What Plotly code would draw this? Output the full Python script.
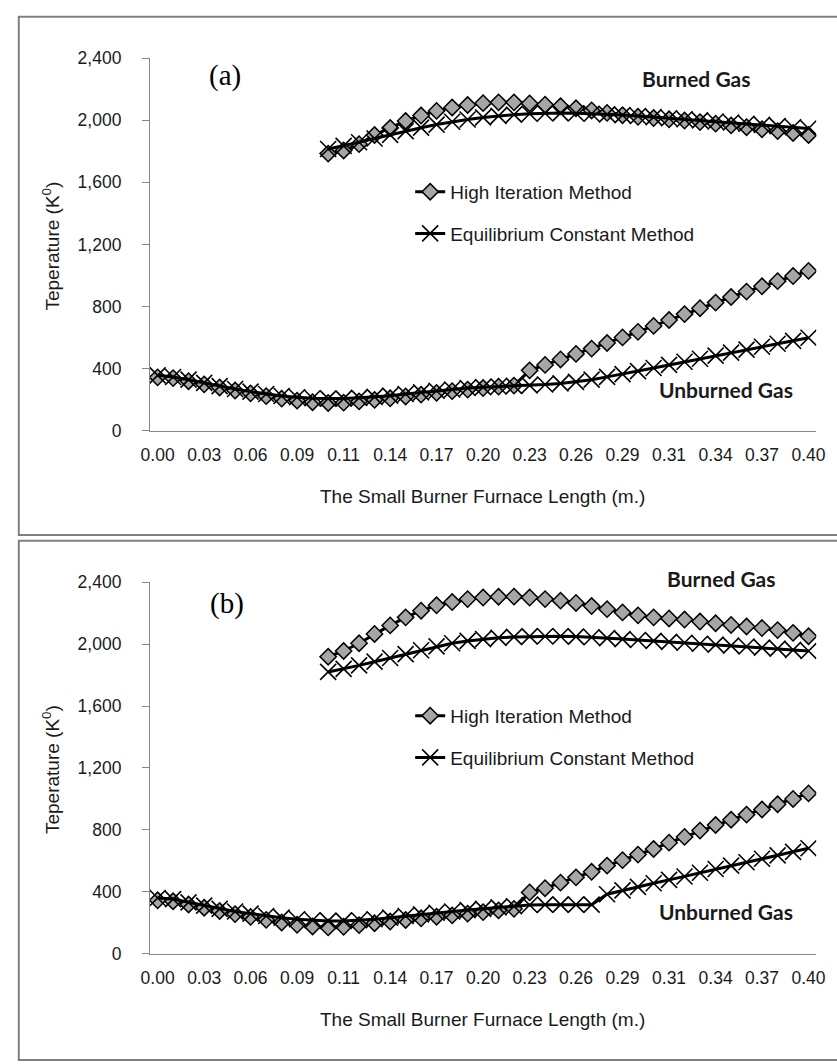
import plotly.graph_objects as go

# ---------------- data ----------------
x_labels = ["0.00", "0.03", "0.06", "0.09", "0.11", "0.14", "0.17", "0.20",
            "0.23", "0.26", "0.29", "0.31", "0.34", "0.37", "0.40"]
length_m = [round(0.4 * i / 42, 4) for i in range(43)]   # 43 category points along the furnace
burn_start = 11                                          # burned-gas series start at this point

# Panel (a)
hi_unburned_a = [345, 340, 320, 300, 280, 260, 242, 224, 208, 195, 185, 180, 182, 190, 200,
                 210, 222, 234, 245, 256, 266, 276, 285, 292,
                 390, 425, 460, 496, 530, 566, 602, 638, 676, 714, 752, 790, 826, 862, 897,
                 931, 964, 997, 1030]
eq_unburned_a = [358, 347, 330, 309, 288, 270, 253, 238, 225, 217, 210, 208, 208, 213, 219,
                 227, 238, 248, 259, 267, 276, 282, 286, 290,
                 293, 299, 306, 316, 330, 348, 366, 385, 405, 425, 445, 465, 485, 504, 523,
                 542, 561, 580, 600]
hi_burned_a = [1785, 1805, 1846, 1905, 1950, 1995, 2030, 2060, 2082, 2098, 2110, 2115, 2115,
               2108, 2100, 2090, 2077, 2063, 2047, 2032, 2022, 2014, 2006, 1998, 1988, 1978,
               1967, 1955, 1942, 1930, 1918, 1905]
eq_burned_a = [1815, 1835, 1858, 1882, 1906, 1930, 1952, 1972, 1990, 2005, 2018, 2028, 2036,
               2042, 2045, 2046, 2045, 2042, 2038, 2033, 2027, 2020, 2013, 2006, 1999, 1992,
               1985, 1977, 1970, 1962, 1955, 1947]

# Panel (b)
hi_unburned_b = [346, 340, 319, 298, 277, 257, 239, 220, 203, 188, 177, 171, 175, 186, 198,
                 209, 219, 230, 240, 249, 260, 270, 281, 291,
                 397, 424, 460, 494, 530, 570, 605, 641, 677, 718, 755, 796, 832, 866, 899,
                 932, 966, 1000, 1036]
eq_unburned_b = [361, 354, 333, 312, 291, 274, 260, 245, 234, 224, 217, 213, 213, 217, 224,
                 234, 245, 255, 266, 274, 283, 291, 300, 308,
                 316, 318, 318, 318, 318,
                 385, 410, 433, 456, 478, 500, 524, 548, 570, 592, 614, 636, 659, 682]
hi_burned_b = [1918, 1955, 2005, 2065, 2120, 2172, 2215, 2250, 2271, 2290, 2300, 2305, 2306,
               2300, 2290, 2280, 2265, 2245, 2225, 2204, 2185, 2172, 2165, 2158, 2145, 2134,
               2123, 2113, 2103, 2090, 2072, 2050]
eq_burned_b = [1820, 1840, 1862, 1886, 1910, 1935, 1960, 1985, 2005, 2020, 2032, 2040, 2046,
               2049, 2050, 2050, 2048, 2044, 2038, 2032, 2026, 2020, 2014, 2008, 2002, 1996,
               1990, 1984, 1977, 1970, 1962, 1955]

series_names = ["High Iteration Method", "Equilibrium Constant Method"]
panel_labels = ["(a)", "(b)"]
y_title = "Teperature (K<sup>0</sup>)"
x_title = "The Small Burner Furnace Length (m.)"

# ---------------- layout helpers ----------------
W, H = 837, 1064
def px(x):
    return x / W
def py(y):
    return 1 - y / H

SANS = "Liberation Sans, Arial, sans-serif"
AXC = "#868686"
TXT = "#1a1a1a"
GRAY_FILL = "#a6a6a6"

fig = go.Figure()

panels = [
    dict(hi_u=hi_unburned_a, eq_u=eq_unburned_a, hi_b=hi_burned_a, eq_b=eq_burned_a,
         xa="x", ya="y", leg="legend"),
    dict(hi_u=hi_unburned_b, eq_u=eq_unburned_b, hi_b=hi_burned_b, eq_b=eq_burned_b,
         xa="x2", ya="y2", leg="legend2"),
]

hi_style = dict(mode="lines+markers",
                line=dict(color="black", width=3),
                marker=dict(symbol="diamond", size=12.5, color=GRAY_FILL,
                            line=dict(color="black", width=1.5)))
eq_style = dict(mode="lines+markers",
                line=dict(color="black", width=3),
                marker=dict(symbol="x-thin", size=16, color="black",
                            line=dict(color="black", width=1.6)))

burn_x = length_m[burn_start:]
for p in panels:
    fig.add_trace(go.Scatter(x=length_m, y=p["hi_u"], name=series_names[0], legendgroup="hi",
                             xaxis=p["xa"], yaxis=p["ya"], legend=p["leg"], **hi_style))
    fig.add_trace(go.Scatter(x=burn_x, y=p["hi_b"], name=series_names[0], legendgroup="hi",
                             showlegend=False, xaxis=p["xa"], yaxis=p["ya"], legend=p["leg"],
                             **hi_style))
    fig.add_trace(go.Scatter(x=length_m, y=p["eq_u"], name=series_names[1], legendgroup="eq",
                             xaxis=p["xa"], yaxis=p["ya"], legend=p["leg"], **eq_style))
    fig.add_trace(go.Scatter(x=burn_x, y=p["eq_b"], name=series_names[1], legendgroup="eq",
                             showlegend=False, xaxis=p["xa"], yaxis=p["ya"], legend=p["leg"],
                             **eq_style))

half = 0.5 * (length_m[1] - length_m[0])
xdom = [px(144), px(825)]
tickvals = length_m[::3]

def xaxis_cfg(anchor):
    return dict(domain=xdom, anchor=anchor, range=[length_m[0] - half, length_m[-1] + half],
                tickmode="array", tickvals=tickvals, ticktext=x_labels,
                showline=True, linecolor=AXC, linewidth=1, ticks="",
                showgrid=False, zeroline=False, ticklabelstandoff=8,
                tickfont=dict(family=SANS, size=17.5, color=TXT))

def yaxis_cfg(anchor, top, bottom):
    return dict(domain=[py(bottom), py(top)], anchor=anchor, range=[0, 2400], dtick=400,
                tickformat=",d", showline=True, linecolor=AXC, linewidth=1,
                ticks="outside", ticklen=7, tickcolor=AXC, tickwidth=1,
                showgrid=False, zeroline=False, ticklabelstandoff=17,
                tickfont=dict(family=SANS, size=17.5, color=TXT))

panel_geo = [dict(top=49, bottom=429, box_top=7, box_bot=535),
             dict(top=583, bottom=962, box_top=541, box_bot=1070)]

annotations = []
shapes = []
label_pos = [dict(lab=(221, 67), burned=(703, 70), unburned=(733, 387)),
             dict(lab=(223, 605), burned=(728, 579), unburned=(733, 919))]
for k, g in enumerate(panel_geo):
    shapes.append(dict(type="rect", xref="paper", yref="paper",
                       x0=px(10), x1=px(860), y0=py(g["box_bot"]), y1=py(g["box_top"]),
                       line=dict(color="#7f7f7f", width=2), layer="below"))
    mid = (g["top"] + g["bottom"]) / 2
    annotations.append(dict(text=y_title, xref="paper", yref="paper", x=px(43), y=py(mid + 2),
                            textangle=-90, showarrow=False, xanchor="center", yanchor="middle",
                            font=dict(family=SANS, size=19, color=TXT)))
    annotations.append(dict(text=x_title, xref="paper", yref="paper", x=px(484),
                            y=py(g["bottom"] + 67), showarrow=False, xanchor="center",
                            yanchor="middle", font=dict(family=SANS, size=19, color=TXT)))
    lp = label_pos[k]
    annotations.append(dict(text=panel_labels[k], xref="paper", yref="paper", x=px(lp["lab"][0]),
                            y=py(lp["lab"][1]), showarrow=False, xanchor="center",
                            yanchor="middle",
                            font=dict(family="Liberation Serif, Times New Roman, serif",
                                      size=29, color="black")))
    annotations.append(dict(text="<b>Burned Gas</b>", xref="paper", yref="paper",
                            x=px(lp["burned"][0]), y=py(lp["burned"][1]), showarrow=False,
                            xanchor="center", yanchor="middle",
                            font=dict(family="Lato, Open Sans, sans-serif", size=21,
                                      color=TXT)))
    annotations.append(dict(text="<b>Unburned Gas</b>", xref="paper", yref="paper",
                            x=px(lp["unburned"][0]), y=py(lp["unburned"][1]), showarrow=False,
                            xanchor="center", yanchor="middle",
                            font=dict(family="Lato, Open Sans, sans-serif", size=21,
                                      color=TXT)))

def legend_cfg(top):
    return dict(x=px(410), y=py(top), xanchor="left", yanchor="top",
                bgcolor="rgba(0,0,0,0)", borderwidth=0, traceorder="grouped",
                tracegroupgap=14, itemwidth=30,
                font=dict(family=SANS, size=19, color=TXT))

fig.update_layout(
    width=W, height=H, margin=dict(l=0, r=0, t=0, b=0),
    paper_bgcolor="white", plot_bgcolor="white",
    xaxis=xaxis_cfg("y"), yaxis=yaxis_cfg("x", 49, 429),
    xaxis2=xaxis_cfg("y2"), yaxis2=yaxis_cfg("x2", 583, 962),
    legend=legend_cfg(166), legend2=legend_cfg(700),
    annotations=annotations, shapes=shapes,
)

fig.write_html("out.html")
